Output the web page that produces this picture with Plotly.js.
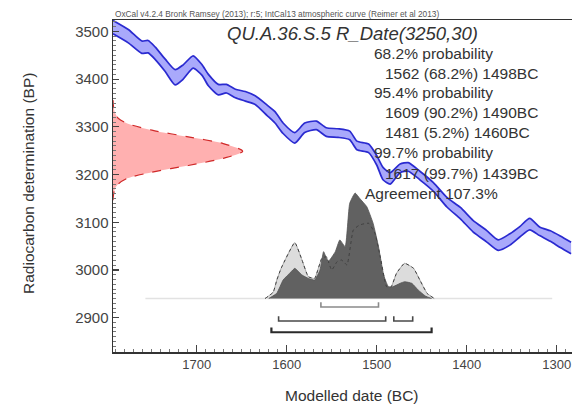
<!DOCTYPE html>
<html><head><meta charset="utf-8">
<script src="https://cdn.plot.ly/plotly-3.0.1.min.js"></script>
<style>html,body{margin:0;padding:0;background:#fff}#chart{width:572px;height:408px}</style>
</head><body><div id="chart"></div>
<script>
// IntCal13 calibration curve (years BC, radiocarbon BP, 1-sigma)
const curveYears = [1793,1776,1761,1754,1746,1735,1724,1715,1704,1694,1687,1676,1667,1657,1646,1635,1622,1613,1604,1591,1580,1567,1556,1543,1530,1522,1509,1500,1493,1485,1474,1465,1452,1437,1422,1407,1393,1378,1365,1352,1341,1330,1319,1307,1296,1284];
const curveBP = [3509,3490,3467,3468,3454,3429,3404,3415,3436,3419,3398,3378,3380,3370,3364,3356,3335,3320,3297,3277,3298,3303,3289,3287,3282,3261,3255,3230,3202,3192,3213,3216,3198,3174,3142,3119,3092,3071,3052,3064,3080,3096,3081,3071,3059,3046];
const curveErr = [14,14,13,13,13,13,16,15,13,11,12,11,9,9,10,9,11,12,11,11,10,9,9,9,9,9,9,10,13,12,9,9,9,9,10,12,12,12,11,12,11,12,9,11,12,12];

// R_Date(3250,30) measurement distribution (BP, relative density)
const redBP = [3146,3158,3170,3180,3192,3205,3219,3234,3249,3265,3279,3293,3307,3318,3330,3342,3356];
const redDensity = [0,0.004,0.015,0.04,0.11,0.3,0.58,0.85,1.0,0.85,0.58,0.3,0.11,0.04,0.015,0.004,0];

// Calibrated (unmodelled) likelihood, light grey
const likelihoodYears = [1624,1615,1611,1606,1591,1583,1576,1569,1561,1556,1550,1544,1539,1533,1526,1519,1509,1502,1496,1489,1484,1478,1469,1459,1452,1444,1436];
const likelihoodDensity = [0,0.06,0.175,0.29,0.53,0.365,0.207,0.19,0.38,0.396,0.27,0.349,0.365,0.318,0.649,0.697,0.713,0.618,0.396,0.112,0.11,0.239,0.334,0.286,0.175,0.049,0];

// Modelled posterior, dark grey
const posteriorYears = [1620,1611,1604,1595,1591,1583,1576,1569,1563,1559,1554,1546,1541,1535,1530,1524,1519,1511,1504,1498,1493,1487,1482,1474,1469,1461,1454,1446,1439];
const posteriorDensity = [0,0.05,0.175,0.254,0.286,0.223,0.191,0.175,0.27,0.444,0.349,0.444,0.555,0.491,0.902,1.0,0.95,0.87,0.713,0.491,0.239,0.112,0.112,0.144,0.159,0.144,0.081,0.024,0];

// Highest posterior density ranges (BC)
const range68 = [[1562,1498]];
const range95 = [[1609,1490],[1481,1460]];
const range997 = [[1617,1439]];
const calcRange = [1757,1305];

const captionText = 'OxCal v4.2.4 Bronk Ramsey (2013); r:5; IntCal13 atmospheric curve (Reimer et al 2013)';
const titleText = 'QU.A.36.S.5 R_Date(3250,30)';
const summaryLines = [
  ['68.2% probability', 1],
  ['1562 (68.2%) 1498BC', 2],
  ['95.4% probability', 1],
  ['1609 (90.2%) 1490BC', 2],
  ['1481 (5.2%) 1460BC', 2],
  ['99.7% probability', 1],
  ['1617 (99.7%) 1439BC', 2],
  ['Agreement 107.3%', 0]
];

const traces = [];
// calibration band
traces.push({x: curveYears, y: curveBP.map((v,i)=>v-curveErr[i]), xaxis:'x', yaxis:'y', mode:'lines',
  line:{color:'#2a2ad0', width:1.7, shape:'spline', smoothing:0.6}, hoverinfo:'skip'});
traces.push({x: curveYears, y: curveBP.map((v,i)=>v+curveErr[i]), xaxis:'x', yaxis:'y', mode:'lines',
  fill:'tonexty', fillcolor:'rgba(140,140,250,0.75)',
  line:{color:'#2a2ad0', width:1.7, shape:'spline', smoothing:0.6}, hoverinfo:'skip'});

// baseline of distributions
traces.push({x: calcRange, y: [0,0], xaxis:'x', yaxis:'y2', mode:'lines', line:{color:'#e2e2e2', width:1.5}, hoverinfo:'skip'});
// likelihood (light)
traces.push({x: likelihoodYears, y: likelihoodDensity, xaxis:'x', yaxis:'y2', mode:'lines', fill:'tozeroy',
  fillcolor:'#dcdcdc', line:{color:'#aaaaaa', width:1, shape:'spline', smoothing:0.4}, hoverinfo:'skip'});
// posterior (dark)
traces.push({x: posteriorYears, y: posteriorDensity, xaxis:'x', yaxis:'y2', mode:'lines', fill:'tozeroy',
  fillcolor:'#616161', line:{color:'#555555', width:0.8, shape:'spline', smoothing:0.4}, hoverinfo:'skip'});
// likelihood outline, dotted, on top
traces.push({x: likelihoodYears, y: likelihoodDensity, xaxis:'x', yaxis:'y2', mode:'lines',
  line:{color:'#404040', width:1, dash:'dot', shape:'spline', smoothing:0.4}, hoverinfo:'skip'});

// range brackets
const levels = [[range68, -0.081, '#8a8a8a', 1.6], [range95, -0.213, '#4a4a4a', 1.6], [range997, -0.320, '#2a2a2a', 2.2]];
const tickUp = 0.045;
levels.forEach(([ranges, lvl, col, w]) => {
  ranges.forEach(r => {
    traces.push({x:[r[0], r[0], r[1], r[1]], y:[lvl+tickUp, lvl, lvl, lvl+tickUp], xaxis:'x', yaxis:'y2',
      mode:'lines', line:{color:col, width:w}, hoverinfo:'skip'});
  });
});

// measurement distribution on the y axis
traces.push({x: redDensity, y: redBP, xaxis:'x2', yaxis:'y', mode:'lines', fill:'tozerox',
  fillcolor:'#ffb0b0', line:{color:'#d02828', width:1.2, dash:'dash', shape:'spline', smoothing:0.8}, hoverinfo:'skip'});

const W = 572, H = 408, L = 113, R = 0, T = 20, B = 56;
const pw = W - L - R, ph = H - T - B;
const px = X => (X - L) / pw;
const py = Y => (H - B - Y) / ph;

const annotations = [];
annotations.push({text: captionText, xref:'paper', yref:'paper', x: px(113), y: py(14), xanchor:'left', yanchor:'middle',
  showarrow:false, font:{size:8.3, color:'#555'}});
annotations.push({text: titleText, xref:'paper', yref:'paper', x: px(352), y: py(33), xanchor:'center', yanchor:'middle',
  showarrow:false, font:{size:18.5, color:'#333', style:'italic'}});
const indentX = [362.5, 371.5, 382.5];
const lineY = [53, 73, 92.5, 112, 132, 152.5, 173, 193];
summaryLines.forEach(([t, ind], i) => {
  annotations.push({text: t, xref:'paper', yref:'paper', x: px(indentX[ind]), y: py(lineY[i]), xanchor:'left', yanchor:'middle',
    showarrow:false, font:{size:15.5, color:'#333'}});
});
annotations.push({text:'Modelled date (BC)', xref:'paper', yref:'paper', x: px(352), y: py(395), xanchor:'center', yanchor:'middle',
  showarrow:false, font:{size:15.5, color:'#333'}});
annotations.push({text:'Radiocarbon determination (BP)', xref:'paper', yref:'paper', x: px(28), y: py(184), xanchor:'center', yanchor:'middle',
  textangle:-90, showarrow:false, font:{size:15.5, color:'#333'}});

const layout = {
  width: W, height: H,
  margin: {l:L, r:R, t:T, b:B, pad:0},
  paper_bgcolor:'#ffffff', plot_bgcolor:'#ffffff',
  showlegend:false,
  font:{family:'Liberation Sans, Arial, sans-serif', color:'#333'},
  xaxis:{range:[1793,1283], dtick:100, tick0:1300, ticks:'inside', ticklen:7, tickwidth:1.2, tickcolor:'#444',
    showline:true, linecolor:'#333', linewidth:1.5, mirror:true, showgrid:false, zeroline:false,
    tickfont:{size:13, color:'#444'},
    minor:{dtick:10, ticks:'inside', ticklen:3, tickwidth:1, tickcolor:'#777', showgrid:false}},
  yaxis:{range:[2828,3524], dtick:100, tick0:2900, ticks:'inside', ticklen:6, tickwidth:1.2, tickcolor:'#444',
    showline:true, linecolor:'#333', linewidth:1.5, mirror:false, showgrid:false, zeroline:false,
    tickfont:{size:15, color:'#444'},
    minor:{dtick:10, ticks:'inside', ticklen:3, tickwidth:1, tickcolor:'#777', showgrid:false}},
  xaxis2:{overlaying:'x', anchor:'y', range:[0, 3.539], visible:false},
  yaxis2:{overlaying:'y', anchor:'x', range:[-0.507, 2.640], visible:false},
  annotations: annotations
};

Plotly.newPlot('chart', traces, layout, {displayModeBar:false, staticPlot:true});
</script>
</body></html>
